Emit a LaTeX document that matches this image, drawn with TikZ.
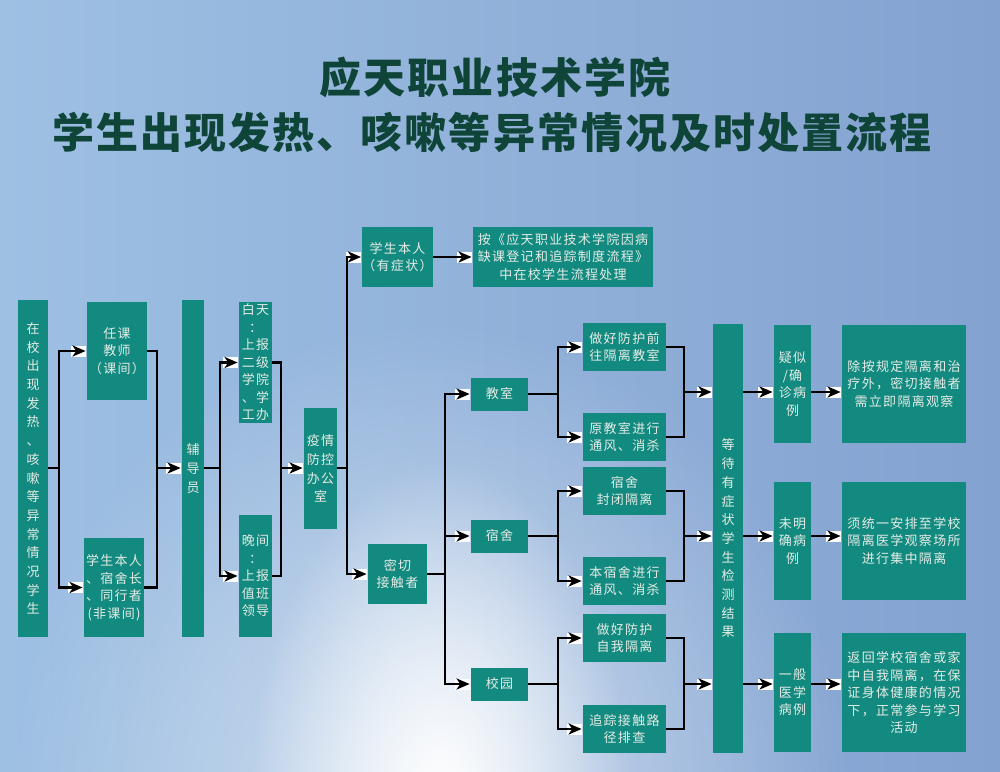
\documentclass[tikz,border=0pt]{standalone}
\usepackage{fontspec}
\newfontfamily\cjk[LetterSpace=10]{Noto Sans CJK SC}
\newfontfamily\cjktitle[LetterSpace=5]{Noto Sans CJK SC}
\usetikzlibrary{arrows.meta, positioning, fadings}
\definecolor{cteal}{HTML}{138A80}
\definecolor{ctext}{HTML}{E4ECE6}
\definecolor{ctitle}{HTML}{0F4438}
\definecolor{cbgleft}{HTML}{9EC0E3}
\definecolor{cbgright}{HTML}{84A2D0}
\tikzfading[name=glowfade, inner color=transparent!0, outer color=transparent!100]
\tikzset{
  every picture/.style={line width=2.8pt},
  box/.style={fill=cteal, text=ctext, align=center, inner sep=0pt, font=\cjk\fontsize{13}{17.5}\selectfont},
  vtext/.style={font=\cjk\fontsize{13}{18.7}\selectfont},
  sz/.style 2 args={minimum width=#1, minimum height=#2},
  link/.style={draw=black, line width=2.8pt, line cap=rect},
  arrow/.style={-{Stealth[length=13pt, width=11pt, inset=3.5pt]}, draw=black, line width=2.8pt, line cap=rect,
    preaction={draw=white, -{Rectangle[length=15pt, width=11pt]}}},
  title/.style={font=\cjktitle\bfseries\fontsize{42}{50}\selectfont, text=ctitle},
}
\begin{document}
\begin{tikzpicture}[x=1pt, y=-1pt]
  % background
  \useasboundingbox (0,0) rectangle (1000,771);
  \shade[left color=cbgleft, right color=cbgright] (0,0) rectangle (1000,771);
  \fill[white, opacity=.6, path fading=glowfade] (430,800) ellipse (420 and 480);
  \fill[white, path fading=glowfade] (440,800) ellipse (190 and 340);

  % title
  \node[title] (title1) at (495,77) {应天职业技术学院};
  \node[title] (title2) at (492,132) {学生出现发热、咳嗽等异常情况及时处置流程};

  % left part
  \node[box, vtext, sz={30}{337}] (src) at (33,468.5) {在\\校\\出\\现\\发\\热\\、\\咳\\嗽\\等\\异\\常\\情\\况\\学\\生};
  \node[box, sz={60}{98}] (teacher) at (117,351) {任课\\教师\\（课间）};
  \node[box, sz={60}{99}] (peer) at (114,587.5) {学生本人\\、宿舍长\\、同行者\\(非课间)};
  \node[box, vtext, sz={22}{337}] (fdy) at (193,468.5) {辅\\导\\员};
  \node[box, sz={33}{121}] (day) at (255.5,362.5) {白天\\：\\上报\\二级\\学院\\、学\\工办};
  \node[box, sz={33}{122}] (night) at (255.5,576) {晚间\\：\\上报\\值班\\领导};
  \node[box, vtext, sz={33}{121}] (office) at (320.5,468.5) {疫情\\防控\\办公\\室};

  % middle part
  \node[box, sz={59}{60}] (sympt) at (397.5,257) {学生本人\\（有症状）};
  \node[box, sz={180}{60}] (rule) at (563,257) {按《应天职业技术学院因病\\缺课登记和追踪制度流程》\\中在校学生流程处理};
  \node[box, sz={59}{60}] (close) at (397.5,574) {密切\\接触者};
  \node[box, sz={57}{33}] (cls) at (499.5,394) {教室};
  \node[box, sz={57}{33}] (dorm) at (499.5,536) {宿舍};
  \node[box, sz={57}{33}] (camp) at (499.5,684) {校园};
  \node[box, sz={83}{48}] (c1) at (624.5,347) {做好防护前\\往隔离教室};
  \node[box, sz={83}{48}] (c2) at (624.5,437) {原教室进行\\通风、消杀};
  \node[box, sz={83}{48}] (d1) at (624.5,491) {宿舍\\封闭隔离};
  \node[box, sz={83}{48}] (d2) at (624.5,581) {本宿舍进行\\通风、消杀};
  \node[box, sz={83}{48}] (p1) at (624.5,638) {做好防护\\自我隔离};
  \node[box, sz={83}{48}] (p2) at (624.5,729) {追踪接触路\\径排查};

  % right part
  \node[box, vtext, sz={30}{429}] (wait) at (728,538.5) {等\\待\\有\\症\\状\\学\\生\\检\\测\\结\\果};
  \node[box, sz={37}{118}] (r1) at (792.5,384) {疑似\\/确\\诊病\\例};
  \node[box, sz={37}{118}] (r2) at (792.5,541) {未明\\确病\\例};
  \node[box, sz={37}{119}] (r3) at (792.5,692.5) {一般\\医学\\病例};
  \node[box, sz={124}{118}] (a1) at (904,384) {除按规定隔离和治\\疗外，密切接触者\\需立即隔离观察};
  \node[box, sz={124}{118}] (a2) at (904,541) {须统一安排至学校\\隔离医学观察场所\\进行集中隔离};
  \node[box, sz={124}{119}] (a3) at (904,692.5) {返回学校宿舍或家\\中自我隔离，在保\\证身体健康的情况\\下，正常参与学习\\活动};

  % junctions
  \coordinate (b1) at (59,468);
  \coordinate (m1) at (157,468);
  \coordinate (b2) at (220,468);
  \coordinate (m2) at (281,468);
  \coordinate (b3) at (347,468);
  \coordinate (b4) at (445,574);
  \coordinate (b5) at (558,394);
  \coordinate (b6) at (558,536);
  \coordinate (b7) at (558,684);
  \coordinate (m5) at (684,392);
  \coordinate (m6) at (684,536);
  \coordinate (m7) at (684,684);

  % connectors
  \draw[link] (src.east |- b1) -- (b1);
  \draw[arrow] (b1) |- (teacher.west);
  \draw[arrow] (b1) |- (peer.west);
  \draw[link] (teacher.east) -| (m1);
  \draw[link] (peer.east) -| (m1);
  \draw[arrow] (m1) -- (fdy.west |- m1);
  \draw[link] (fdy.east |- b2) -- (b2);
  \draw[arrow] (b2) |- (day.west);
  \draw[arrow] (b2) |- (night.west);
  \draw[link] (day.east) -| (m2);
  \draw[link] (night.east) -| (m2);
  \draw[arrow] (m2) -- (office.west |- m2);
  \draw[link] (office.east |- b3) -- (b3);
  \draw[arrow] (b3) |- (sympt.west);
  \draw[arrow] (b3) |- (close.west);
  \draw[arrow] (sympt.east) -- (rule.west);
  \draw[link] (close.east) -- (b4);
  \draw[arrow] (b4) |- (cls.west);
  \draw[arrow] (b4) |- (dorm.west);
  \draw[arrow] (b4) |- (camp.west);
  \draw[link] (cls.east) -- (b5);
  \draw[arrow] (b5) |- (c1.west);
  \draw[arrow] (b5) |- (c2.west);
  \draw[link] (dorm.east) -- (b6);
  \draw[arrow] (b6) |- (d1.west);
  \draw[arrow] (b6) |- (d2.west);
  \draw[link] (camp.east) -- (b7);
  \draw[arrow] (b7) |- (p1.west);
  \draw[arrow] (b7) |- (p2.west);
  \draw[link] (c1.east) -| (m5);
  \draw[link] (c2.east) -| (m5);
  \draw[link] (d1.east) -| (m6);
  \draw[link] (d2.east) -| (m6);
  \draw[link] (p1.east) -| (m7);
  \draw[link] (p2.east) -| (m7);
  \draw[arrow] (m5) -- (wait.west |- m5);
  \draw[arrow] (m6) -- (wait.west |- m6);
  \draw[arrow] (m7) -- (wait.west |- m7);
  \draw[arrow] (wait.east |- m5) -- (r1.west |- m5);
  \draw[arrow] (wait.east |- m6) -- (r2.west |- m6);
  \draw[arrow] (wait.east |- m7) -- (r3.west |- m7);
  \draw[arrow] (r1.east |- m5) -- (a1.west |- m5);
  \draw[arrow] (r2.east |- m6) -- (a2.west |- m6);
  \draw[arrow] (r3.east |- m7) -- (a3.west |- m7);
\end{tikzpicture}
\end{document}
